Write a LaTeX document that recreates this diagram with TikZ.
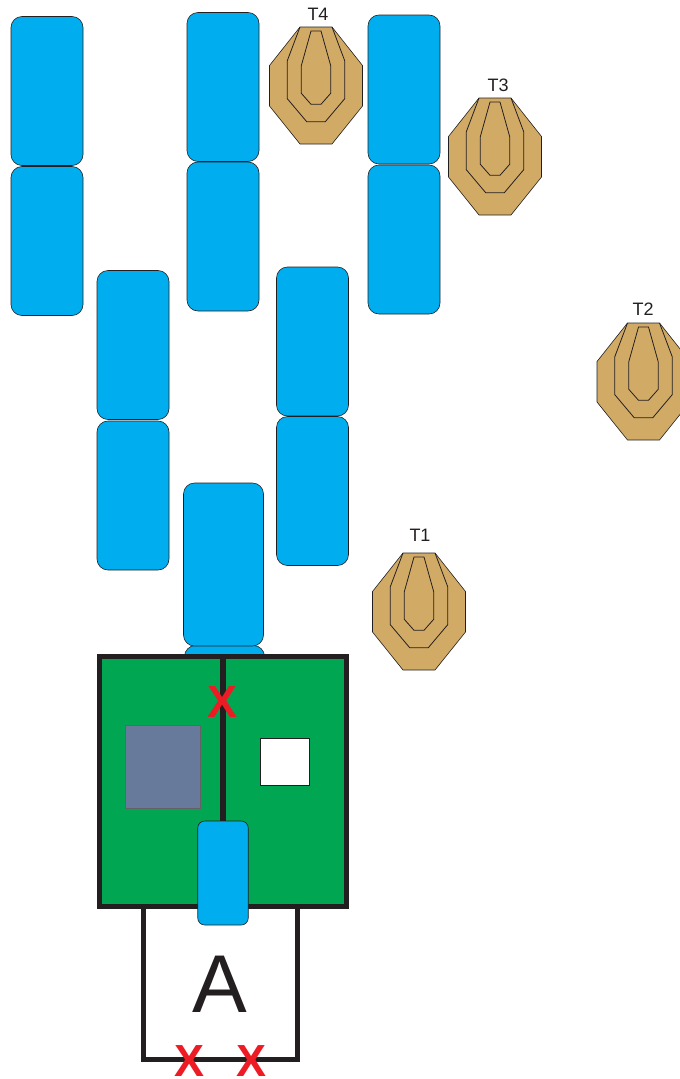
\documentclass[tikz,border=0pt]{standalone}
\usepackage{fontspec}
\setmainfont{Liberation Sans}
\usepackage{xcolor}
\definecolor{bayBlue}{RGB}{0, 174, 239}
\definecolor{bayGreen}{RGB}{0, 166, 81}
\definecolor{bayTan}{RGB}{209, 171, 102}
\definecolor{bayRed}{RGB}{237, 28, 36}
\definecolor{bayInk}{RGB}{35, 31, 32}
\definecolor{baySlate}{RGB}{103, 122, 155}

\begin{document}
\begin{tikzpicture}[x=1pt, y=-1pt,
          barrel/.style={draw=bayInk, line width=0.6pt, rounded corners=11pt, fill=bayBlue,
                        minimum width=72pt, minimum height=149pt,
                        inner sep=0pt, outer sep=0pt},
          panel/.style={draw=bayInk, line width=5pt, fill=bayGreen,
                        minimum height=250pt, inner sep=0pt, outer sep=0pt},
          redx/.style={font=\fontsize{45}{45}\selectfont\bfseries, color=bayRed,
                        inner sep=0pt},
          tlabel/.style={font=\fontsize{18}{18}\selectfont, color=bayInk, inner sep=0pt},
          target/.pic={
            \draw[draw=bayInk, line width=0.6pt, fill=bayTan] (-16,0) -- (16,0) -- (46.5,38.5) -- (46.5,79)
              -- (16,117) -- (-16,117) -- (-46.5,79) -- (-46.5,38.5) -- cycle;
            \draw[draw=bayInk, line width=0.8pt] (16,0) -- (28.7,33.7) -- (28.7,71.7)
              -- (9.3,94.7) -- (-9.3,94.7) -- (-28.7,71.7) -- (-28.7,33.7) -- (-16,0);
            \draw[draw=bayInk, line width=0.8pt] (-5,4) -- (5,4) -- (14.7,38.7) -- (14.7,66.3)
              -- (5,77.3) -- (-5,77.3) -- (-14.7,66.3) -- (-14.7,38.7) -- cycle;
          }]
        \useasboundingbox (0,0) rectangle (680,1079);
        % barrels
        \node[barrel] (b1) at ( 47, 91) {};
        \node[barrel] (b2) at ( 47,241) {};
        \node[barrel] (b3) at (133,345) {};
        \node[barrel] (b4) at (133,495.5) {};
        \node[barrel] (b5) at (223, 87) {};
        \node[barrel] (b6) at (223,236.5) {};
        \node[barrel] (b7) at (312.5,341.5) {};
        \node[barrel] (b8) at (312.5,491) {};
        \node[barrel] (b9) at (404, 89.5) {};
        \node[barrel] (b10) at (404,239.5) {};
        \node[barrel, minimum width=80pt, minimum height=163pt] (b11) at (224.5,727) {};
        \node[barrel, minimum width=80pt, minimum height=163pt] (b12) at (223.5,564.5) {};
        % targets
        \pic at (316, 27) {target};
        \pic at (495, 98) {target};
        \pic at (643.5,323) {target};
        \pic at (419,553) {target};
        \node[tlabel] (t4) at (318, 14) {T4};
        \node[tlabel] (t3) at (498, 85) {T3};
        \node[tlabel] (t2) at (643,309) {T2};
        \node[tlabel] (t1) at (420,535) {T1};
        % shooting box
        \node[panel, minimum width=123.5pt] (left) at (161,781.5) {};
        \node[panel, minimum width=123.5pt] (right) at (284.5,781) {};
        \coordinate (dtop) at (223,655);
        \coordinate (dbot) at (223,830);
        \draw[draw=bayInk, line width=6pt] (dtop) -- (dbot);
        \node[draw=bayInk!70, line width=1pt, fill=baySlate, minimum width=75pt, minimum height=83.5pt,
              inner sep=0pt] (wall) at (163.3,767) {};
        \node[draw=bayInk, line width=0.7pt, fill=white, minimum width=49.5pt, minimum height=47.5pt,
              inner sep=0pt] (gap) at (284.8,762) {};
        \node[redx] (xtop) at (223,702) {X};
        \node[draw=bayInk, line width=0.6pt, rounded corners=7pt, fill=bayBlue, minimum width=50.5pt,
              minimum height=104pt, inner sep=0pt] (b13) at (223,873) {};
        % start box
        \coordinate (sl) at (143.5,908);
        \coordinate (sr) at (297,908);
        \coordinate (bl) at (143.5,1059);
        \coordinate (br) at (297,1059);
        \draw[draw=bayInk, line width=5pt, line cap=rect] (sl) -- (bl) -- (br) -- (sr);
        \node[font=\fontsize{82}{82}\selectfont, color=bayInk, inner sep=0pt] (start) at (220,984.5) {A};
        \node[redx] (x1) at (190,1061.5) {X};
        \node[redx] (x2) at (252,1061.5) {X};
      \end{tikzpicture}
\end{document}
